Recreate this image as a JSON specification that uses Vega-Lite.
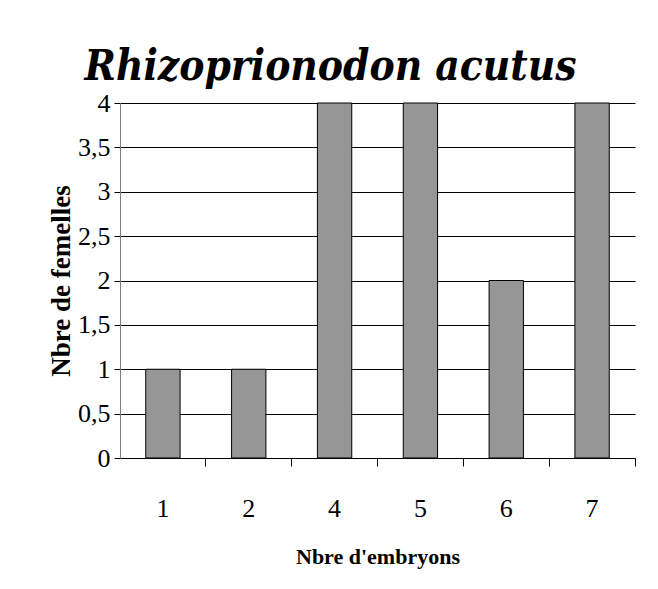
{
  "$schema": "https://vega.github.io/schema/vega-lite/v6.json",
  "autosize": "none",
  "width": 515,
  "height": 355,
  "padding": {"left": 120, "top": 103, "right": 23, "bottom": 131},
  "background": "white",
  "title": {
    "text": "Rhizoprionodon acutus",
    "font": "DejaVu Serif Condensed",
    "fontSize": 42,
    "fontStyle": "italic",
    "fontWeight": "bold",
    "color": "black",
    "anchor": "middle",
    "offset": 1,
    "dx": -47
  },
  "data": {
    "values": [
      {"embryons": "1", "femelles": 1},
      {"embryons": "2", "femelles": 1},
      {"embryons": "4", "femelles": 4},
      {"embryons": "5", "femelles": 4},
      {"embryons": "6", "femelles": 2},
      {"embryons": "7", "femelles": 4}
    ]
  },
  "mark": {"type": "bar", "fill": "#969696", "stroke": "#000000", "strokeWidth": 1},
  "encoding": {
    "x": {
      "field": "embryons",
      "type": "ordinal",
      "sort": null,
      "scale": {"paddingInner": 0.6, "paddingOuter": 0.3},
      "axis": {
        "title": "Nbre d'embryons",
        "titleFont": "Liberation Serif",
        "titleFontSize": 22,
        "titleFontWeight": "bold",
        "titleColor": "black",
        "titlePadding": 25,
        "labelFont": "Liberation Serif",
        "labelFontSize": 26,
        "labelColor": "black",
        "labelAngle": 0,
        "labelPadding": 29,
        "bandPosition": 1.75,
        "tickSize": 8,
        "tickColor": "#000000",
        "domainColor": "#000000",
        "grid": false
      }
    },
    "y": {
      "field": "femelles",
      "type": "quantitative",
      "scale": {"domain": [0, 4], "nice": false},
      "axis": {
        "title": "Nbre de femelles",
        "titleFont": "Liberation Serif",
        "titleFontSize": 27,
        "titleFontWeight": "bold",
        "titleColor": "black",
        "titlePadding": 2,
        "values": [0, 0.5, 1, 1.5, 2, 2.5, 3, 3.5, 4],
        "labelExpr": "replace(format(datum.value, '~g'), '.', ',')",
        "labelFont": "Liberation Serif",
        "labelFontSize": 26,
        "labelColor": "black",
        "labelPadding": 4,
        "tickSize": 6,
        "tickColor": "#000000",
        "domainColor": "#808080",
        "grid": true,
        "gridColor": "#000000",
        "gridWidth": 1
      }
    }
  },
  "config": {"view": {"stroke": null}}
}
